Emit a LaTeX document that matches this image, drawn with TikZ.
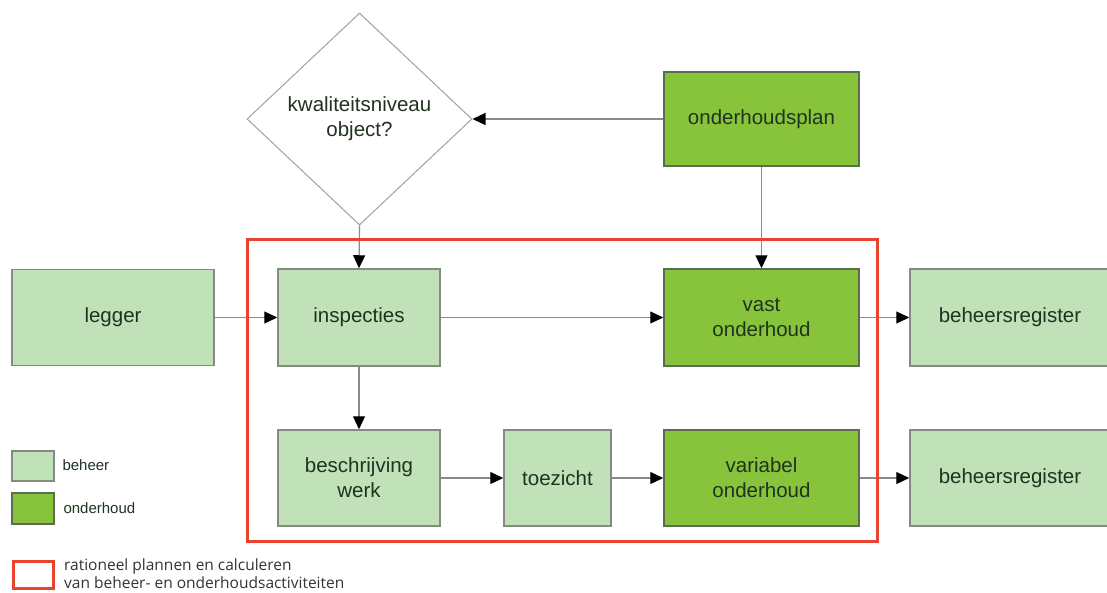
\documentclass[tikz,border=0pt]{standalone}
\usepackage{fontspec}
\setmainfont{Liberation Sans}
\newfontfamily\legendfont{Open Sans}
\usetikzlibrary{arrows.meta,shapes.geometric}
\definecolor{lichtgroen}{HTML}{C1E1B9}
\definecolor{donkergroen}{HTML}{87C43C}
\definecolor{randgrijs}{HTML}{858A83}
\definecolor{randdonker}{HTML}{5C6B52}
\definecolor{lijngrijs}{HTML}{8A8A8A}
\definecolor{tekstgroen}{HTML}{1F331F}
\definecolor{kaderrood}{HTML}{E8432F}

\begin{document}
\begin{tikzpicture}[x=1pt,y=-1pt,
  beheerbox/.style={draw=randgrijs,line width=1.5pt,fill=lichtgroen,text=tekstgroen,
    align=center,inner sep=0pt,font=\fontsize{20.5}{25}\selectfont},
  onderhoudbox/.style={beheerbox,fill=donkergroen,draw=randdonker},
  vraag/.style={diamond,draw=lijngrijs!80,line width=1pt,fill=white,text=tekstgroen,
    align=center,inner sep=0pt,font=\fontsize{20.5}{25}\selectfont},
  pijl/.style={draw=lijngrijs,line width=1.2pt,-{Triangle[length=13pt,width=12pt,color=black]}},
  kader/.style={draw=kaderrood,line width=3pt}]
\useasboundingbox (0,0) rectangle (1107,592);
\node[vraag,minimum width=225pt,minimum height=212pt] (diam) at (359.5,119) {kwaliteitsniveau\\object?};
\node[onderhoudbox,minimum width=195pt,minimum height=94pt] (plan) at (761.5,119) {onderhoudsplan};
\node[beheerbox,minimum width=202pt,minimum height=96pt] (legger) at (113,317.5) {legger};
\node[beheerbox,minimum width=162pt,minimum height=97pt] (insp) at (359,317.5) {inspecties};
\node[onderhoudbox,minimum width=195pt,minimum height=97pt] (vast) at (761.5,317.5) {vast\\onderhoud};
\node[beheerbox,minimum width=200pt,minimum height=97pt] (reg1) at (1010,317.5) {beheersregister};
\node[beheerbox,minimum width=162pt,minimum height=96pt] (beschr) at (359,478) {beschrijving\\werk};
\node[beheerbox,minimum width=107pt,minimum height=96pt] (toez) at (557.5,478) {toezicht};
\node[onderhoudbox,minimum width=195pt,minimum height=96pt] (var) at (761.5,478) {variabel\\onderhoud};
\node[beheerbox,minimum width=200pt,minimum height=96pt] (reg2) at (1010,478) {beheersregister};
\draw[pijl] (plan) -- (diam.east);
\draw[pijl] (diam.south) -- (insp.north);
\draw[pijl] (plan) -- (vast);
\draw[pijl] (legger) -- (insp);
\draw[pijl] (insp) -- (vast);
\draw[pijl] (vast) -- (reg1);
\draw[pijl] (insp) -- (beschr);
\draw[pijl] (beschr) -- (toez);
\draw[pijl] (toez) -- (var);
\draw[pijl] (var) -- (reg2);
\draw[kader] (247,239) rectangle (877,541);
\node[beheerbox,minimum width=42pt,minimum height=30pt] (lgbeheer) at (33,466) {};
\node[onderhoudbox,minimum width=42pt,minimum height=31pt] (lgonder) at (33,508.5) {};
\node[anchor=west,text=tekstgroen,font=\fontsize{15}{18}\selectfont] (lbbeheer) at (59,465) {beheer};
\node[anchor=west,text=tekstgroen,font=\fontsize{15}{18}\selectfont] (lbonder) at (60,508) {onderhoud};
\node[kader,minimum width=40pt,minimum height=27pt,inner sep=0pt] (lgkader) at (33,574.5) {};
\node[anchor=west,align=left,text=black!80,inner sep=0pt,font=\legendfont\fontsize{15.5}{18}\selectfont] (lbkader) at (64,574) {rationeel plannen en calculeren\\van beheer- en onderhoudsactiviteiten};
\end{tikzpicture}
\end{document}
